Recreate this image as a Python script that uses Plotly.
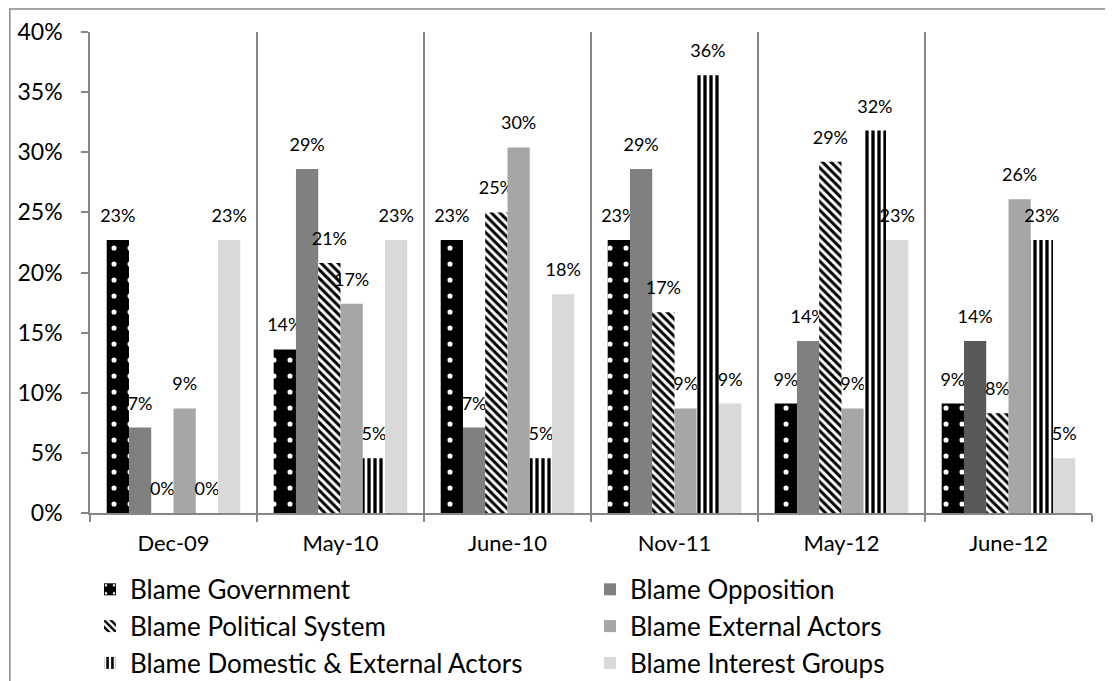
import plotly.graph_objects as go

categories = ["Dec-09", "May-10", "June-10", "Nov-11", "May-12", "June-12"]
series_names = [
    "Blame Government",
    "Blame Opposition",
    "Blame Political System",
    "Blame External Actors",
    "Blame Domestic & External Actors",
    "Blame Interest Groups",
]
gov = [0.227, 0.136, 0.227, 0.227, 0.091, 0.091]
opp = [0.071, 0.286, 0.071, 0.286, 0.143, 0.143]
polsys = [0.0, 0.208, 0.250, 0.167, 0.292, 0.083]
ext = [0.087, 0.174, 0.304, 0.087, 0.087, 0.261]
domext = [0.0, 0.0455, 0.0455, 0.364, 0.318, 0.227]
interest = [0.227, 0.227, 0.182, 0.091, 0.227, 0.0455]

FONT = "Lato"
values = [gov, opp, polsys, ext, domext, interest]
opp_colors = ["#808080"] * 5 + ["#595959"]

styles = [
    dict(color="black", pattern=dict(shape=".", fgcolor="white", bgcolor="black", fgopacity=1, size=16, solidity=0.08)),
    dict(color=opp_colors),
    dict(color="white", pattern=dict(shape="\\", fgcolor="black", bgcolor="white", fgopacity=1, size=6, solidity=0.5)),
    dict(color="#a6a6a6"),
    dict(color="white", pattern=dict(shape="|", fgcolor="black", bgcolor="white", fgopacity=1, size=6, solidity=0.55)),
    dict(color="#d9d9d9"),
]

fig = go.Figure()
for name, vals, st in zip(series_names, values, styles):
    marker = dict(line=dict(width=0))
    marker.update(st)
    fig.add_trace(go.Bar(
        x=categories, y=vals, name=name, marker=marker,
        texttemplate="<span style='font-size:18px'>%{y:.0%}</span><br> ", textposition="outside",
        textfont=dict(family=FONT, size=10, color="black"),
        constraintext="none", cliponaxis=False,
    ))

fig.update_layout(
    width=1105, height=673,
    barmode="group", bargap=0.2, bargroupgap=0,
    plot_bgcolor="white", paper_bgcolor="white",
    margin=dict(l=82, r=21, t=24, b=168, autoexpand=False),
    font=dict(family=FONT, color="black"),
    showlegend=True,
    legend=dict(
        orientation="h", x=0.0, xanchor="left", y=-0.11, yanchor="top",
        font=dict(family=FONT, size=26, color="black"),
        entrywidth=455, entrywidthmode="pixels",
        traceorder="normal", itemclick=False, tracegroupgap=0,
    ),
    xaxis=dict(
        type="category", tickson="boundaries", showgrid=True, gridcolor="#868686", gridwidth=1.5,
        showline=True, linecolor="#868686", linewidth=1.5, automargin=False,
        ticks="outside", ticklen=7, tickcolor="#868686", tickwidth=1.5,
        ticklabelstandoff=10,
        tickfont=dict(family=FONT, size=22, color="black"),
    ),
    yaxis=dict(
        range=[0, 0.4], dtick=0.05, tickformat=".0%", showgrid=False, zeroline=False,
        showline=True, linecolor="#868686", linewidth=1.5, automargin=False,
        ticks="outside", ticklen=7, tickcolor="#868686", tickwidth=1.5,
        ticklabelstandoff=14,
        tickfont=dict(family=FONT, size=23, color="black"),
    ),
    shapes=[dict(
        type="rect", xref="paper", yref="paper",
        x0=-0.08, x1=1.05, y0=-0.5, y1=1.048,
        line=dict(color="#868686", width=1.5), fillcolor="rgba(0,0,0,0)", layer="below",
    )],
)

fig.write_html("out.html")
